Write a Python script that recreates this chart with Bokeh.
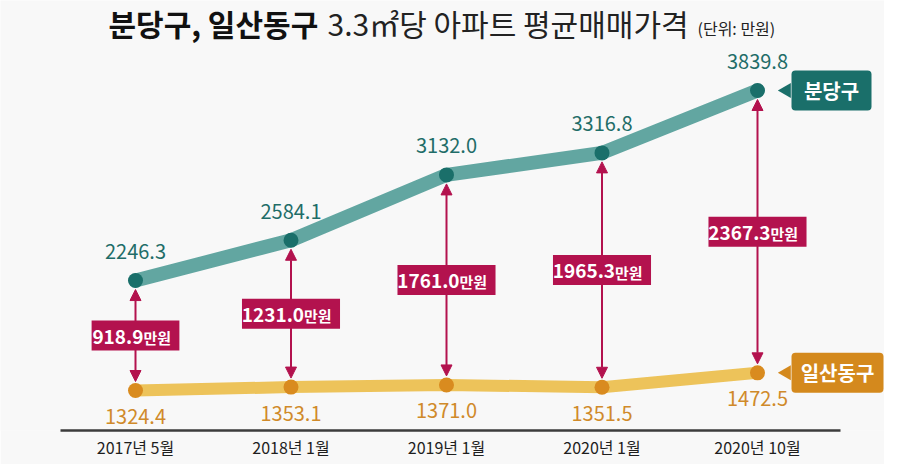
import numpy as np
from bokeh.plotting import figure
from bokeh.models import ColumnDataSource, FixedTicker, Arrow, NormalHead, Range1d
from bokeh.core.properties import value
from bokeh.embed import file_html
from bokeh.resources import INLINE

# ---------------- data ----------------
periods = ["2017년 5월", "2018년 1월", "2019년 1월", "2020년 1월", "2020년 10월"]
bundang = [2246.3, 2584.1, 3132.0, 3316.8, 3839.8]
ilsan = [1324.4, 1353.1, 1371.0, 1351.5, 1472.5]
gap_labels = ["918.9", "1231.0", "1761.0", "1965.3", "2367.3"]
series_names = ["분당구", "일산동구"]
title_bold = "분당구, 일산동구"
title_light = "3.3㎡당 아파트 평균매매가격"
title_unit = "(단위: 만원)"
unit_word = "만원"

# ---------------- layout / style ----------------
FONT = "Noto Sans CJK KR"
BG = "#f8f8f8"
TEAL_LINE = "#62a6a1"
TEAL_DOT = "#1a6f6a"
TEAL_TXT = "#1f6d68"
YEL_LINE = "#edc35a"
YEL_DOT = "#d98b1f"
YEL_TXT = "#d08a2a"
CRIMSON = "#b3124e"

W, H = 884, 464
STANDOFF = 4
BOTTOM = 30 + STANDOFF                # axis panel height (measured)
FRAME_H = H - BOTTOM
x_start = -135 / 155.5
x_end = x_start + W / 155.5
px_x = W / (x_end - x_start)          # pixels per x unit
k = 300 / (3839.8 - 1324.4)           # pixels per value unit
y_end = 3839.8 + 90 / k
y_start = y_end - FRAME_H / k

x = list(range(len(periods)))

p = figure(width=W, height=H, x_range=Range1d(x_start, x_end), y_range=Range1d(y_start, y_end),
           output_backend="svg", toolbar_location=None, y_axis_location=None,
           min_border_left=0, min_border_right=0, min_border_top=0, min_border_bottom=BOTTOM,
           background_fill_color=BG, border_fill_color=BG)
p.outline_line_color = None
p.grid.visible = False

ax = p.xaxis[0]
ax.ticker = FixedTicker(ticks=x)
ax.major_label_overrides = {i: s for i, s in enumerate(periods)}
ax.bounds = (x_start + 60 / px_x, x_start + 840 / px_x)
ax.axis_line_color = "#3c3c3c"
ax.axis_line_width = 2.5
ax.major_tick_line_color = None
ax.minor_tick_line_color = None
ax.major_tick_out = 0
ax.major_tick_in = 0
ax.minor_tick_out = 0
ax.major_label_text_font = FONT
ax.major_label_text_font_size = "16px"
ax.major_label_text_font_style = "normal"
ax.major_label_text_color = "#1e1e1e"
ax.major_label_standoff = STANDOFF

# ---------------- title ----------------
p.text(x=[x_start + 108 / px_x], y=[y_end - 22 / k], text=[title_bold], text_font=value(FONT),
       text_font_size="30px", text_font_style="bold", text_color="#111111",
       text_align="left", text_baseline="middle")
p.text(x=[x_start + 327 / px_x], y=[y_end - 22 / k], text=[title_light], text_font=value(FONT),
       text_font_size="30px", text_color="#222222", text_align="left", text_baseline="middle")
p.text(x=[x_start + 697 / px_x], y=[y_end - 27 / k], text=[title_unit], text_font=value(FONT),
       text_font_size="16px", text_color="#222222", text_align="left", text_baseline="middle")

# ---------------- gap arrows ----------------
b = np.array(bundang)
i_ = np.array(ilsan)
arr_src = ColumnDataSource(dict(x=x, ys=b - 9 / k, ye=i_ + 9 / k))
arrow = Arrow(x_start="x", y_start="ys", x_end="x", y_end="ye", source=arr_src,
              line_color=CRIMSON, line_width=2,
              start=NormalHead(size=11, fill_color=CRIMSON, line_color=CRIMSON),
              end=NormalHead(size=11, fill_color=CRIMSON, line_color=CRIMSON),
              level="underlay")
p.add_layout(arrow)

# ---------------- lines & dots ----------------
p.line(x, bundang, line_width=14, line_color=TEAL_LINE, line_cap="round", line_join="round")
p.line(x, ilsan, line_width=12, line_color=YEL_LINE, line_cap="round", line_join="round")
p.scatter(x, bundang, size=15, fill_color=TEAL_DOT, line_color=None)
p.scatter(x, ilsan, size=15, fill_color=YEL_DOT, line_color=None)

# value labels
p.text(x=x, y=bundang, text=[f"{v:.1f}" for v in bundang], y_offset=-29,
       text_font=value(FONT), text_font_size="20px", text_color=TEAL_TXT,
       text_align="center", text_baseline="middle")
p.text(x=x, y=ilsan, text=[f"{v:.1f}" for v in ilsan], y_offset=26,
       text_font=value(FONT), text_font_size="20px", text_color=YEL_TXT,
       text_align="center", text_baseline="middle")

# ---------------- gap boxes ----------------
NUM_FS, UNIT_FS = 19, 15
num_w = np.array([sum(0.25 if c == "." else 0.54 for c in s) * NUM_FS for s in gap_labels])
unit_w = 2 * UNIT_FS
box_w = num_w + unit_w + 12
mid = (b + i_) / 2
gsrc = ColumnDataSource(dict(x=x, y=mid, w=box_w, num=gap_labels, unit=[unit_word] * len(x),
                             xo=(num_w - unit_w) / 2))
p.rect(x="x", y="y", width="w", height=30, width_units="screen", height_units="screen",
       fill_color=CRIMSON, line_color=None, source=gsrc)
p.text(x="x", y="y", text="num", x_offset="xo", y_offset=1, source=gsrc, text_font=value(FONT),
       text_font_size=f"{NUM_FS}px", text_font_style="bold", text_color="white",
       text_align="right", text_baseline="middle")
p.text(x="x", y="y", text="unit", x_offset="xo", y_offset=2, source=gsrc, text_font=value(FONT),
       text_font_size=f"{UNIT_FS}px", text_font_style="bold", text_color="white",
       text_align="left", text_baseline="middle")

# ---------------- series callouts ----------------
last = len(x) - 1
call_w = [80, 92]
call_col = [TEAL_DOT, "#d4891d"]
call_y = [bundang[last], ilsan[last]]
call_x = [last + (34 + w / 2) / px_x for w in call_w]
csrc = ColumnDataSource(dict(x=call_x, y=call_y, w=call_w, c=call_col, t=series_names,
                             tx=[last + 29 / px_x] * 2))
p.scatter(x="tx", y="y", marker="triangle", size=15, angle=np.pi / 2, fill_color="c",
          line_color=None, source=csrc)
p.rect(x="x", y="y", width="w", height=40, width_units="screen", height_units="screen",
       fill_color="c", line_color=None, border_radius=4, source=csrc)
p.text(x="x", y="y", text="t", source=csrc, text_font=value(FONT), text_font_size="20px",
       text_font_style="bold", text_color="white", text_align="center", text_baseline="middle")

open("out.html", "w").write(file_html(p, INLINE))
